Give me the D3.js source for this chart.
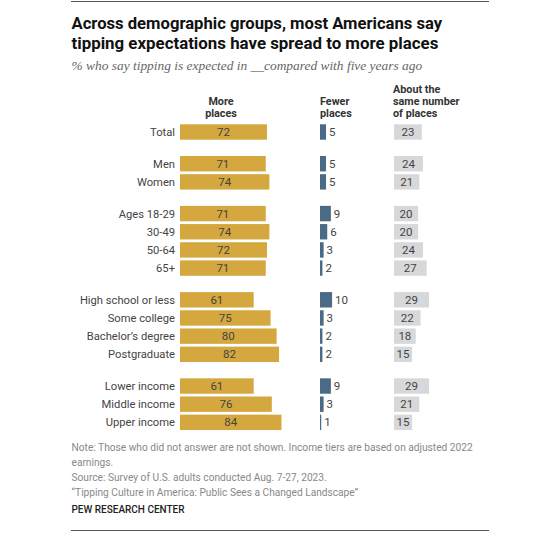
<!DOCTYPE html>
<html><head><meta charset="utf-8">
<script src="https://cdn.jsdelivr.net/npm/d3@7/dist/d3.min.js"></script>
<style>
body{margin:0;background:#fff;}
svg{display:block;font-family:Roboto,"Liberation Sans",sans-serif;}
</style></head>
<body><svg id="c" width="560" height="534"></svg>
<script>
const categories = ["Total","Men","Women","Ages 18-29","30-49","50-64","65+","High school or less","Some college","Bachelor\u2019s degree","Postgraduate","Lower income","Middle income","Upper income"];
const groups = [0,1,1,2,2,2,2,3,3,3,3,4,4,4];
const morePlaces = [72,71,74,71,74,72,71,61,75,80,82,61,76,84];
const fewerPlaces = [5,5,5,9,6,3,2,10,3,2,2,9,3,1];
const samePlaces = [23,24,21,20,20,24,27,29,22,18,15,29,21,15];

const title = ["Across demographic groups, most Americans say","tipping expectations have spread to more places"];
const subtitle = "% who say tipping is expected in __compared with five years ago";
const notes = ["Note: Those who did not answer are not shown. Income tiers are based on adjusted 2022","earnings.","Source: Survey of U.S. adults conducted Aug. 7-27, 2023.","\u201cTipping Culture in America: Public Sees a Changed Landscape\u201d"];
const credit = "PEW RESEARCH CENTER";

const svg = d3.select("#c");

function fit(sel, target){
  const n = sel.node(); const fs = parseFloat(sel.attr("font-size"));
  const w = n.getComputedTextLength();
  const nf = fs*target/w;
  sel.attr("font-size", nf.toFixed(2));
  return nf;
}

svg.append("line").attr("x1",71).attr("x2",489).attr("y1",1.5).attr("y2",1.5).attr("stroke","#555").attr("stroke-width",1);
svg.append("line").attr("x1",71).attr("x2",489).attr("y1",530.5).attr("y2",530.5).attr("stroke","#555").attr("stroke-width",1);

const t1 = svg.append("text").attr("x",71.5).attr("y",29).attr("font-size",18).attr("font-weight","bold").attr("fill","#111").text(title[0]);
fit(t1,371);
const t2 = svg.append("text").attr("x",71.5).attr("y",48.5).attr("font-size",18).attr("font-weight","bold").attr("fill","#111").text(title[1]);
fit(t2,367);
const st = svg.append("text").attr("x",71.5).attr("y",69.5).attr("font-size",13).attr("font-style","italic")
  .attr("font-family","'Liberation Serif','Times New Roman',serif").attr("fill","#666").text(subtitle);
fit(st,351);

// scales
const gap = 0.745;
const slot = categories.map((d,i)=> i + groups[i]*gap);
const y = d3.scaleLinear().domain([0,1]).range([132,132+18.17]);
const k = 1.208;
const xMore = d3.scaleLinear().domain([0,100]).range([180,180+100*k]);
const xFew = d3.scaleLinear().domain([0,100]).range([320,320+100*k]);
const xSame = d3.scaleLinear().domain([0,100]).range([394,394+100*k]);
const bh = 15.4;

// headers
const hdr = svg.append("g").attr("font-size",10.8).attr("font-weight","bold").attr("fill","#333");
hdr.append("text").attr("x",221).attr("y",105).attr("text-anchor","middle").text("More");
hdr.append("text").attr("x",221).attr("y",117).attr("text-anchor","middle").text("places");
hdr.append("text").attr("x",320).attr("y",105).text("Fewer");
hdr.append("text").attr("x",320).attr("y",117).text("places");
hdr.append("text").attr("x",393).attr("y",93).text("About the");
hdr.append("text").attr("x",393).attr("y",105).text("same number");
hdr.append("text").attr("x",393).attr("y",117).text("of places");

const rows = svg.append("g").selectAll("g").data(categories).join("g")
  .attr("transform",(d,i)=>`translate(0,${y(slot[i])})`);

rows.append("text").attr("x",175).attr("y",0).attr("dy","0.36em").attr("text-anchor","end")
  .attr("font-size",11.2).attr("fill","#444").text(d=>d);

rows.append("rect").attr("x",xMore(0)).attr("y",-bh/2).attr("height",bh)
  .attr("width",(d,i)=>xMore(morePlaces[i])-xMore(0)).attr("fill","#d4a83e");
rows.append("text").attr("x",(d,i)=>(xMore(0)+xMore(morePlaces[i]))/2).attr("dy","0.36em").attr("text-anchor","middle")
  .attr("font-size",11.5).attr("fill","#444").text((d,i)=>morePlaces[i]);

rows.append("rect").attr("x",xFew(0)).attr("y",-bh/2).attr("height",bh)
  .attr("width",(d,i)=>xFew(fewerPlaces[i])-xFew(0)).attr("fill","#4a6a86");
rows.append("text").attr("x",(d,i)=>xFew(fewerPlaces[i])+3).attr("dy","0.36em")
  .attr("font-size",11.5).attr("fill","#444").text((d,i)=>fewerPlaces[i]);

rows.append("rect").attr("x",xSame(0)).attr("y",-bh/2).attr("height",bh)
  .attr("width",(d,i)=>xSame(samePlaces[i])-xSame(0)).attr("fill","#d7d8da");
rows.append("text").attr("x",(d,i)=>(xSame(0)+xSame(samePlaces[i]))/2).attr("dy","0.36em").attr("text-anchor","middle")
  .attr("font-size",11.5).attr("fill","#444").text((d,i)=>samePlaces[i]);

// notes
const nb = [451,466,481,496];
let nfs = 10.5;
notes.forEach((n,i)=>{
  const t = svg.append("text").attr("x",71.5).attr("y",nb[i]).attr("font-size",nfs).attr("fill","#888").text(n);
  if(i===0) nfs = fit(t,401.5);
});
const cr = svg.append("text").attr("x",71.5).attr("y",513).attr("font-size",10.5).attr("font-weight",500).attr("fill","#222").text(credit);
fit(cr,113);
</script></body></html>
